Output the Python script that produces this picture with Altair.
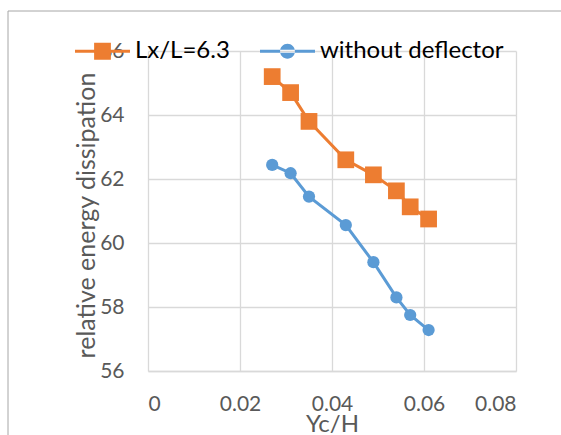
import altair as alt
import pandas as pd

# ---- data ----
series_names = ["Lx/L=6.3", "without deflector"]
series_colors = ["#ED7D31", "#5B9BD5"]

x_deflector = [0.027, 0.031, 0.035, 0.043, 0.049, 0.054, 0.057, 0.061]
y_deflector = [65.2, 64.7, 63.8, 62.6, 62.13, 61.63, 61.13, 60.75]

x_without = [0.027, 0.031, 0.035, 0.043, 0.049, 0.054, 0.057, 0.061]
y_without = [62.44, 62.18, 61.45, 60.56, 59.4, 58.3, 57.75, 57.28]

x_ticks = [0, 0.02, 0.04, 0.06, 0.08]
y_ticks = [56, 58, 60, 62, 64, 66]

FONT = "Lato"

df = pd.concat([
    pd.DataFrame({"x": x_deflector, "y": y_deflector, "series": series_names[0], "order": range(len(x_deflector))}),
    pd.DataFrame({"x": x_without, "y": y_without, "series": series_names[1], "order": range(len(x_without))}),
], ignore_index=True)

# legend symbols: a line with a marker on it (custom SVG paths in unit coordinates)
legend_paths = [
    "M-1,-0.058L1,-0.058L1,0.058L-1,0.058Z"
    "M-0.305,-0.305L0.305,-0.305L0.305,0.305L-0.305,0.305Z",
    "M-1,-0.058L1,-0.058L1,0.058L-1,0.058Z"
    "M-0.27,0A0.27,0.27 0 1,0 0.27,0A0.27,0.27 0 1,0 -0.27,0Z",
]

x_enc = alt.X("x:Q", scale=alt.Scale(domain=[0, 0.08], nice=False),
              axis=alt.Axis(values=x_ticks, format="~g", title="Yc/H",
                            titleX=184, titleY=60, titleBaseline="alphabetic"))
y_enc = alt.Y("y:Q", scale=alt.Scale(domain=[56, 66], nice=False, zero=False),
              axis=alt.Axis(values=y_ticks, title="relative energy dissipation",
                            titleX=-54, titleY=164, titleBaseline="alphabetic", titleAlign="center"))

color_nolegend = alt.Color("series:N", scale=alt.Scale(domain=series_names, range=series_colors), legend=None)

lines = alt.Chart(df).mark_line(strokeWidth=3).encode(
    x=x_enc, y=y_enc, color=color_nolegend, detail="series:N", order="order:Q"
)

points = alt.Chart(df).mark_point(filled=True, opacity=1).encode(
    x=x_enc, y=y_enc, color=color_nolegend,
    shape=alt.Shape("series:N", scale=alt.Scale(domain=series_names, range=["square", "circle"]), legend=None),
    size=alt.Size("series:N", scale=alt.Scale(domain=series_names, range=[280, 150]), legend=None),
)

leg = alt.Legend(title=None, orient="none", legendX=-73, legendY=-27.5, direction="horizontal",
                 labelFont=FONT, labelFontSize=24, labelColor="#000000", labelOffset=5,
                 columnPadding=30, symbolSize=3025, symbolOpacity=1, symbolStrokeWidth=0,
                 padding=0, labelLimit=400)

legend_layer = alt.Chart(df).mark_point(filled=True, opacity=0).encode(
    x=x_enc, y=y_enc,
    color=alt.Color("series:N", scale=alt.Scale(domain=series_names, range=series_colors), legend=leg),
    shape=alt.Shape("series:N", scale=alt.Scale(domain=series_names, range=legend_paths), legend=leg),
)

border = alt.Chart(pd.DataFrame({"a": [0]})).mark_rect(fill="transparent", stroke="#a6a6a6", strokeWidth=1).encode(
    x=alt.value(-140), y=alt.value(-40), x2=alt.value(700), y2=alt.value(600)
)

chart = alt.layer(border, lines, points, legend_layer).resolve_scale(
    color="independent", shape="independent", size="independent"
).properties(
    width=368, height=320,
    autosize=alt.AutoSizeParams(type="none"),
    padding={"left": 148, "top": 51, "right": 45, "bottom": 64},
    background="white",
).configure_view(stroke=None).configure_axis(
    labelFont=FONT, labelFontSize=21, labelColor="#595959",
    titleFont=FONT, titleFontWeight="normal", titleColor="#595959",
    gridColor="#d9d9d9", gridWidth=1.3, ticks=False, domain=False,
).configure_axisX(
    domain=True, domainColor="#d9d9d9", domainWidth=1.3, labelPadding=22, titleFontSize=24,
).configure_axisY(
    labelPadding=24, titleFontSize=25,
)

chart.save("out.html", embed_options={"renderer": "svg", "actions": False})
